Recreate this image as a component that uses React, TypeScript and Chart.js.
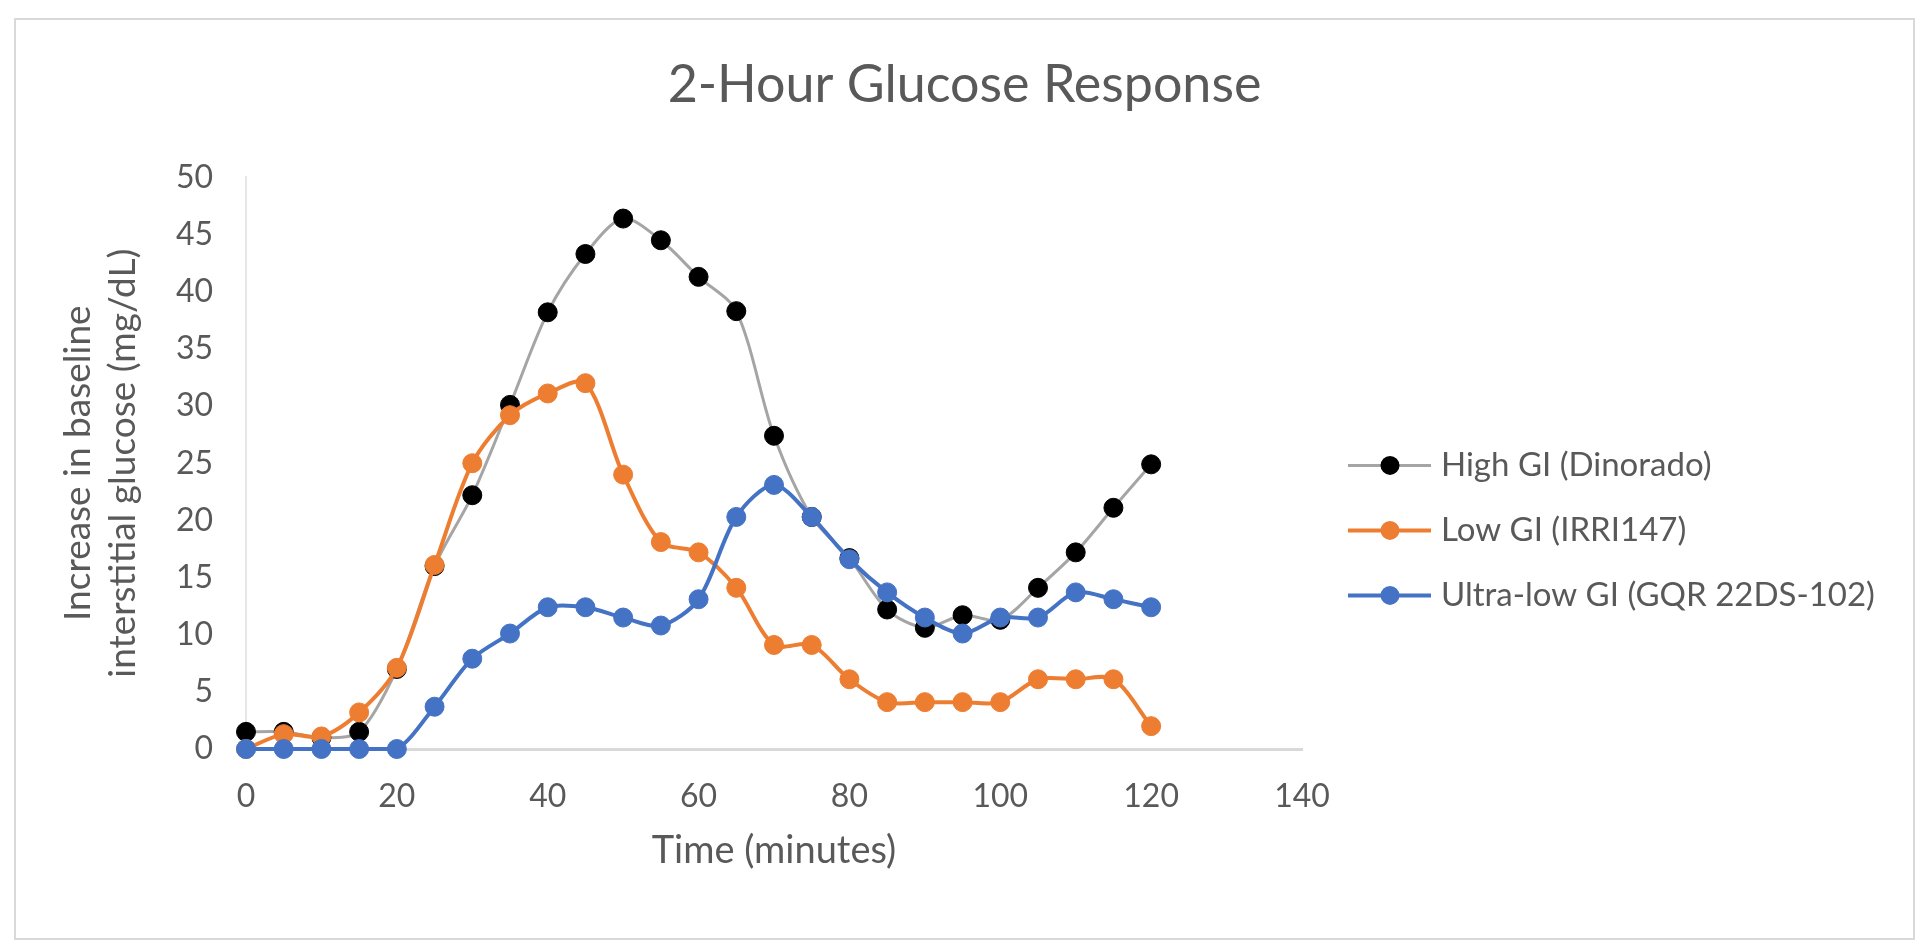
import React, { useEffect, useRef } from "react";
import { Chart, registerables } from "chart.js";

Chart.register(...registerables);

// ---- data ----
const timeMinutes = [0, 5, 10, 15, 20, 25, 30, 35, 40, 45, 50, 55, 60, 65, 70, 75, 80, 85, 90, 95, 100, 105, 110, 115, 120];
const highGI = [1.5, 1.5, 1.0, 1.5, 7.0, 16.0, 22.2, 30.1, 38.2, 43.3, 46.4, 44.5, 41.3, 38.3, 27.4, 20.3, 16.7, 12.2, 10.6, 11.7, 11.3, 14.1, 17.2, 21.1, 24.9];
const lowGI = [0, 1.3, 1.1, 3.2, 7.1, 16.1, 25.0, 29.2, 31.1, 32.0, 24.0, 18.1, 17.2, 14.1, 9.1, 9.1, 6.1, 4.1, 4.1, 4.1, 4.1, 6.1, 6.1, 6.1, 2.0];
const ultraLowGI = [0, 0, 0, 0, 0, 3.7, 7.9, 10.1, 12.4, 12.4, 11.5, 10.8, 13.1, 20.3, 23.1, 20.3, 16.6, 13.7, 11.5, 10.1, 11.5, 11.5, 13.7, 13.1, 12.4];
const seriesNames = ["High GI (Dinorado)", "Low GI (IRRI147)", "Ultra-low GI (GQR 22DS-102)"];
const xTicksRange = [0, 140, 20];
const yTicksRange = [0, 50, 5];
const chartTitle = "2-Hour Glucose Response";
const xTitle = "Time (minutes)";
const yTitle = ["Increase in baseline", "interstitial glucose (mg/dL)"];

const FONT = "Lato, Calibri, 'Open Sans', sans-serif";
const TEXT = "#595959";

const sideLegend = {
  id: "sideLegend",
  afterDraw(chart: any) {
    const { ctx, chartArea } = chart;
    const x0 = chartArea.right + 46;
    const y0 = chartArea.top + 288;
    const gap = 65;
    ctx.save();
    chart.data.datasets.forEach((ds: any, i: number) => {
      const y = y0 + i * gap;
      ctx.strokeStyle = ds.borderColor;
      ctx.lineWidth = ds.borderWidth;
      ctx.beginPath();
      ctx.moveTo(x0, y);
      ctx.lineTo(x0 + 83, y);
      ctx.stroke();
      ctx.fillStyle = ds.pointBackgroundColor;
      ctx.beginPath();
      ctx.arc(x0 + 42, y, 9.5, 0, Math.PI * 2);
      ctx.fill();
      ctx.fillStyle = TEXT;
      ctx.font = `33px ${FONT}`;
      ctx.textBaseline = "middle";
      ctx.textAlign = "left";
      ctx.fillText(ds.label, x0 + 93, y);
    });
    ctx.restore();
  },
};

export default function App() {
  const ref = useRef<HTMLCanvasElement | null>(null);

  useEffect(() => {
    if (!ref.current) return;
    const mk = (arr: number[]) => timeMinutes.map((t, i) => ({ x: t, y: arr[i] }));
    const common = {
      pointRadius: 9.5,
      pointBorderWidth: 1,
      tension: 0.3,
      clip: false,
    };
    const chart = new Chart(ref.current, {
      type: "line",
      data: {
        datasets: [
          {
            ...common,
            label: seriesNames[0],
            data: mk(highGI),
            borderColor: "#A5A5A5",
            borderWidth: 3,
            pointBackgroundColor: "#000000",
            pointBorderColor: "#000000",
            order: 3,
          },
          {
            ...common,
            label: seriesNames[1],
            data: mk(lowGI),
            borderColor: "#ED7D31",
            borderWidth: 4,
            pointBackgroundColor: "#ED7D31",
            pointBorderColor: "#ED7D31",
            order: 2,
          },
          {
            ...common,
            label: seriesNames[2],
            data: mk(ultraLowGI),
            borderColor: "#4472C4",
            borderWidth: 4,
            pointBackgroundColor: "#4472C4",
            pointBorderColor: "#4472C4",
            order: 1,
          },
        ] as any,
      },
      options: {
        responsive: false,
        animation: false,
        layout: { padding: { left: 0, right: 0, top: 0, bottom: 64 } },
        plugins: {
          legend: { display: false },
          tooltip: { enabled: false },
          title: {
            display: true,
            text: chartTitle,
            color: TEXT,
            font: { family: FONT, size: 52, weight: "normal" },
            padding: { top: 34, bottom: 61 },
          },
        },
        scales: {
          x: {
            type: "linear",
            min: xTicksRange[0],
            max: xTicksRange[1],
            ticks: { stepSize: xTicksRange[2], padding: 28, color: TEXT, font: { family: FONT, size: 32 } },
            grid: { display: false, drawTicks: false },
            border: { display: true, color: "#D9D9D9", width: 3 },
            title: {
              display: true,
              text: xTitle,
              color: TEXT,
              font: { family: FONT, size: 38 },
              padding: { top: 0, bottom: 0 },
            },
            afterFit: (s: any) => {
              s.height = 125;
            },
          },
          y: {
            min: yTicksRange[0],
            max: yTicksRange[1],
            ticks: { stepSize: yTicksRange[2], padding: 33, color: TEXT, font: { family: FONT, size: 32 } },
            grid: { display: false, drawTicks: false },
            border: { display: true, color: "#E6E6E6", width: 2 },
            title: {
              display: true,
              text: yTitle,
              color: TEXT,
              font: { family: FONT, size: 37 },
              padding: { top: 40, bottom: 0 },
            },
            afterFit: (s: any) => {
              s.width = 230;
            },
          },
          yLegendSpace: {
            type: "linear",
            position: "right",
            display: true,
            ticks: { display: false },
            grid: { display: false, drawTicks: false },
            border: { display: false },
            afterFit: (s: any) => {
              s.width = 611;
            },
          },
        } as any,
      },
      plugins: [sideLegend],
    });
    return () => chart.destroy();
  }, []);

  return (
    <div
      style={{
        position: "absolute",
        left: 14,
        top: 18,
        width: 1901,
        height: 922,
        border: "2px solid #D9D9D9",
        boxSizing: "border-box",
        background: "#fff",
      }}
    >
      <canvas ref={ref} width={1897} height={918} style={{ display: "block", width: 1897, height: 918 }} />
    </div>
  );
}
